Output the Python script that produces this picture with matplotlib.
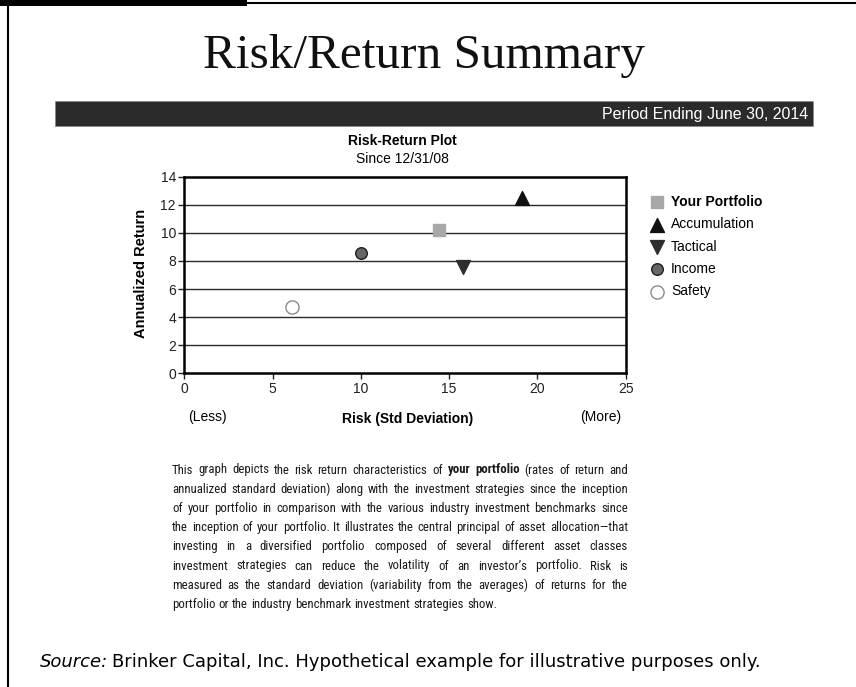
import matplotlib
matplotlib.use("Agg")
import matplotlib.pyplot as plt
from matplotlib import font_manager
from matplotlib.lines import Line2D
from matplotlib.patches import Rectangle

W, H = 856, 687

# chart data
names = ["Your Portfolio", "Accumulation", "Tactical", "Income", "Safety"]
risk = [14.4, 19.1, 15.8, 10.0, 6.1]
ret = [10.2, 12.5, 7.6, 8.6, 4.7]
markers = ["s", "^", "v", "o", "o"]
faces = ["#a8a8a8", "#111111", "#2e2e2e", "#666666", "white"]
edges = ["#a8a8a8", "#111111", "#2e2e2e", "#1e1e1e", "#8a8a8a"]
sizes = [70, 100, 100, 70, 90]

x_ticks = [0, 5, 10, 15, 20, 25]
y_ticks = [0, 2, 4, 6, 8, 10, 12, 14]

body = [
    "This graph depicts the risk return characteristics of *your *portfolio (rates of return and",
    "annualized standard deviation) along with the investment strategies since the inception",
    "of your portfolio in comparison with the various industry investment benchmarks since",
    "the inception of your portfolio. It illustrates the central principal of asset allocation\u2014that",
    "investing in a diversified portfolio composed of several different asset classes",
    "investment strategies can reduce the volatility of an investor\u2019s portfolio. Risk is",
    "measured as the standard deviation (variability from the averages) of returns for the",
    "portfolio or the industry benchmark investment strategies show.",
]

SANS = "Liberation Sans"
plt.rcParams["font.family"] = [SANS, "DejaVu Sans"]


def narrow_font():
    # look for a condensed sans face, else plain sans
    have = {(e.name, e.stretch) for e in font_manager.fontManager.ttflist}
    prefs = [("Liberation Sans Narrow", "normal"), ("Liberation Sans Narrow", "condensed"),
             ("Roboto Condensed", "normal"), ("Roboto Condensed", "condensed"),
             ("Roboto", "condensed"), ("Noto Sans", "condensed"),
             ("Open Sans", "condensed"), ("DejaVu Sans", "condensed"),
             ("DejaVu Sans Condensed", "normal"), ("DejaVu Sans Condensed", "condensed")]
    for p in prefs:
        if p in have:
            return {"family": p[0], "fontstretch": p[1]}
    return {"family": SANS}


def fx(x):
    return x / W


def fy(y):
    return 1 - y / H


def justify(fig, lines, x0, x1, y0, step, size, font):
    r = fig.canvas.get_renderer()
    # shrink the size if the widest line would not fit
    widest = 0
    for line in lines:
        t = fig.text(0, 0, line.replace("*", ""), fontsize=size, **font)
        widest = max(widest, t.get_window_extent(r).width)
        t.remove()
    if widest > (x1 - x0) * 0.975:
        size = size * (x1 - x0) * 0.975 / widest
    space = size * 100 / 72 * 0.25
    for i, line in enumerate(lines):
        words = line.split()
        texts = []
        for w in words:
            bold = w.startswith("*")
            texts.append(fig.text(0, fy(y0 + i * step), w.strip("*"), fontsize=size,
                                  color="#1a1a1a", va="center",
                                  weight="bold" if bold else "normal", **font))
        widths = [t.get_window_extent(r).width for t in texts]
        if i == len(lines) - 1:
            gap = space
        else:
            gap = (x1 - x0 - sum(widths)) / (len(words) - 1)
        x = x0
        for t, w in zip(texts, widths):
            t.set_x(fx(x))
            x += w + gap


fig = plt.figure(figsize=(W / 100, H / 100), dpi=100)

# page frame
fig.add_artist(Rectangle((0, fy(6)), fx(247), 6 / H, color="black", lw=0))
fig.add_artist(Line2D([0, 1], [fy(3), fy(3)], color="black", lw=1.5))
fig.add_artist(Line2D([fx(8), fx(8)], [0, fy(3)], color="black", lw=1.5))

fig.text(fx(424), fy(68), "Risk/Return Summary", family="Liberation Serif",
         fontsize=35.5, ha="center", va="baseline", color="#111111")

fig.add_artist(Rectangle((fx(55), fy(126)), fx(813) - fx(55), 25 / H,
                         facecolor="#2b2b2b", edgecolor="#888888", lw=0.5))
fig.text(fx(808), fy(114), "Period Ending June 30, 2014",
         fontsize=11.5, color="white", ha="right", va="center")

fig.text(fx(402), fy(141), "Risk-Return Plot", fontsize=10, weight="bold",
         ha="center", va="center")
fig.text(fx(402), fy(159), "Since 12/31/08", fontsize=10, ha="center", va="center")

ax = fig.add_axes([fx(184.3), fy(373.3), (625.7 - 184.3) / W, (373.3 - 176.7) / H])
for n, xv, yv, m, fc, ec, s in zip(names, risk, ret, markers, faces, edges, sizes):
    ax.scatter(xv, yv, marker=m, s=s, facecolor=fc, edgecolor=ec, linewidth=1,
               label=n, zorder=3)

ax.set_xlim(0, 25)
ax.set_ylim(0, 14)
ax.set_xticks(x_ticks)
ax.set_yticks(y_ticks)
ax.tick_params(direction="out", length=4, width=1, labelsize=10, pad=2,
               colors="#222222")
for yv in y_ticks[1:-1]:
    ax.axhline(yv, color="#2a2a2a", lw=1, zorder=1)
for sp in ax.spines.values():
    sp.set_linewidth(1.8)
    sp.set_color("black")

fig.text(fx(141), fy(273), "Annualized Return", rotation=90, fontsize=10.5,
         weight="bold", ha="center", va="center")
fig.text(fx(207), fy(417), "(Less)", fontsize=10, ha="center", va="center")
fig.text(fx(408), fy(419), "Risk (Std Deviation)", fontsize=10, weight="bold",
         ha="center", va="center")
fig.text(fx(601), fy(417), "(More)", fontsize=10, ha="center", va="center")

leg = ax.legend(loc="upper left", bbox_to_anchor=(fx(650), fy(195)),
                bbox_transform=fig.transFigure, frameon=False, fontsize=10,
                handlelength=1.0, handletextpad=0.5, borderpad=0,
                borderaxespad=0, labelspacing=0.6, scatterpoints=1)
leg.get_texts()[0].set_fontweight("bold")

justify(fig, body, 172, 628, 470, 19.2, 11.6, narrow_font())

src = fig.text(fx(40), fy(662), "Source:", family="DejaVu Sans", fontsize=13,
               style="italic", va="center")
r = fig.canvas.get_renderer()
sw = src.get_window_extent(r).width
fig.text(fx(40 + sw + 4), fy(662),
         "Brinker Capital, Inc. Hypothetical example for illustrative purposes only.",
         family="DejaVu Sans", fontsize=13, va="center")

fig.savefig("out.png", dpi=100)
